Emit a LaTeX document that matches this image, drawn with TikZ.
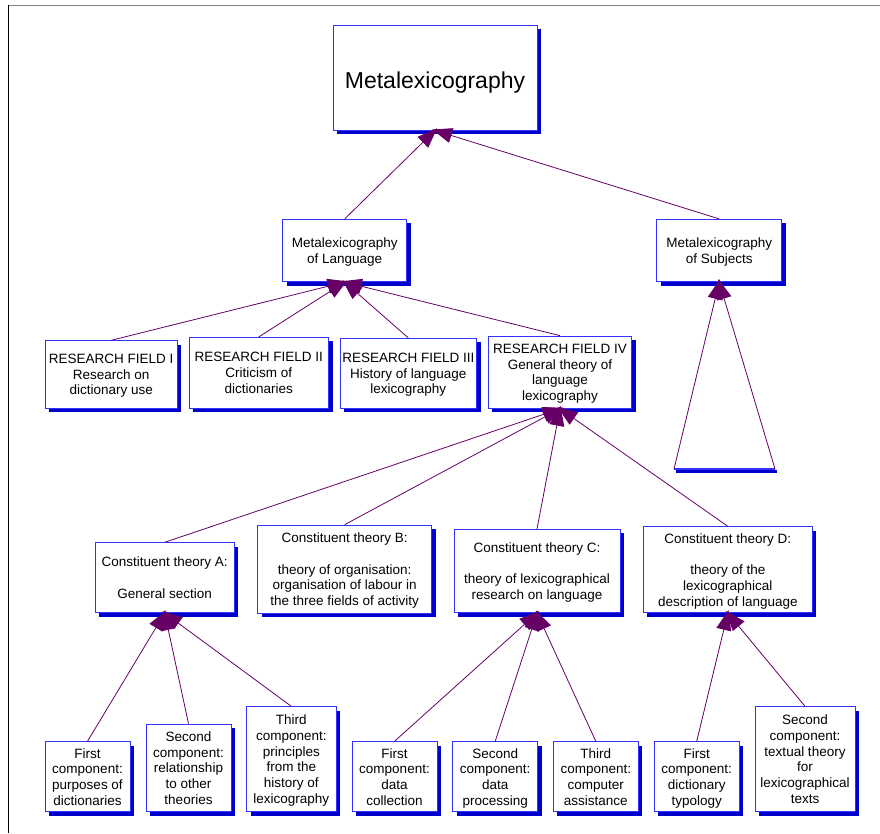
\documentclass[tikz,border=0pt]{standalone}
\usepackage{fontspec}
\setmainfont{Liberation Sans}
\usetikzlibrary{arrows.meta,shadows,calc}
\definecolor{boxline}{RGB}{51,51,255}
\definecolor{shadowblue}{RGB}{0,0,204}
\definecolor{linkpurple}{RGB}{102,0,102}
\definecolor{framegray}{RGB}{128,128,128}
\begin{document}
\begin{tikzpicture}[x=1pt,y=-1pt,
  box/.style={draw=boxline, line width=0.8pt, fill=white, inner sep=0pt, align=center,
    font=\fontsize{13.5}{15.7}\selectfont, text depth=-1.25pt,
    drop shadow={shadow xshift=4pt, shadow yshift=-4pt, fill=shadowblue, opacity=1}},
  bigbox/.style={draw=boxline, line width=0.8pt, fill=white, inner sep=0pt, align=center,
    font=\fontsize{23}{27}\selectfont,
    execute at begin node={\rule{0pt}{26pt}},
    execute at end node={\rule[-4.7pt]{0pt}{0pt}},
    drop shadow={shadow xshift=4pt, shadow yshift=-4pt, fill=shadowblue, opacity=1}},
  link/.style={draw=linkpurple, line width=0.8pt, -{Triangle[length=20pt,width=15pt]}, shorten >=-3pt}]
\useasboundingbox (0,0) rectangle (880,833);
% frame
\draw[framegray, line width=1.5pt] (8,5.5) -- (880,5.5);
\draw[black, line width=1pt] (8,5) -- (8,833);

% nodes
\node[bigbox, minimum width=204pt, minimum height=105pt] (top) at (435,77.5) {Metalexicography};
\node[box, minimum width=124pt, minimum height=62.4pt] (lang) at (344.7,250.5) {Metalexicography\\of Language};
\node[box, minimum width=125pt, minimum height=62.4pt] (subj) at (719.2,250.5) {Metalexicography\\of Subjects};

\node[box, minimum width=132.3pt, minimum height=67.6pt] (rf1) at (111.2,374.5) {RESEARCH FIELD I\\Research on\\dictionary use};
\node[box, minimum width=139.7pt, minimum height=71pt] (rf2) at (258.8,372.8) {RESEARCH FIELD II\\Criticism of\\dictionaries};
\node[box, minimum width=136.7pt, minimum height=70pt] (rf3) at (408.3,373.3) {RESEARCH FIELD III\\History of language\\lexicography};
\node[box, minimum width=143.4pt, minimum height=72.3pt] (rf4) at (560,372.2) {RESEARCH FIELD IV\\General theory of\\language\\lexicography};

\node[box, minimum width=139.3pt, minimum height=70pt] (ctA) at (164.7,577.7) {Constituent theory A:\\[15.7pt]General section};
\node[box, minimum width=174pt, minimum height=88.3pt] (ctB) at (344.7,569.2) {Constituent theory B:\\[15.7pt]theory of organisation:\\organisation of labour in\\the three fields of activity};
\node[box, minimum width=166pt, minimum height=83.4pt] (ctC) at (537,571) {Constituent theory C:\\[15.7pt]theory of lexicographical\\research on language};
\node[box, minimum width=169pt, minimum height=86pt] (ctD) at (727.8,569.7) {Constituent theory D:\\[15.7pt]theory of the\\lexicographical\\description of language};

\node[box, minimum width=85pt, minimum height=70pt] (a1) at (87.5,776.7) {First\\component:\\purposes of\\dictionaries};
\node[box, minimum width=85pt, minimum height=87.7pt] (a2) at (188.5,767.9) {Second\\component:\\relationship\\to other\\theories};
\node[box, minimum width=89.3pt, minimum height=105pt] (a3) at (291.3,759.2) {Third\\component:\\principles\\from the\\history of\\lexicography};

\node[box, minimum width=85pt, minimum height=70pt] (c1) at (394.5,776.7) {First\\component:\\data\\collection};
\node[box, minimum width=85pt, minimum height=70pt] (c2) at (495.2,776.7) {Second\\component:\\data\\processing};
\node[box, minimum width=85pt, minimum height=70pt] (c3) at (595.8,776.7) {Third\\component:\\computer\\assistance};

\node[box, minimum width=85pt, minimum height=70pt] (d1) at (696.7,776.7) {First\\component:\\dictionary\\typology};
\node[box, minimum width=100pt, minimum height=105pt] (d2) at (805,759.2) {Second\\component:\\textual theory\\for\\lexicographical\\texts};

% triangle base
\coordinate (baseL) at (674,469);
\coordinate (baseR) at (775,469);
\draw[shadowblue, line width=3pt] ($(baseL)+(2,2.5)$) -- ($(baseR)+(2,2.5)$);
\draw[boxline, line width=2pt] (baseL) -- (baseR);

% connectors
\draw[link] (lang.north) -- (top.south);
\draw[link] (subj.north) -- (top.south);

\draw[link] (rf1.north) -- (lang.south);
\draw[link] (rf2.north) -- (lang.south);
\draw[link] (rf3.north) -- (lang.south);
\draw[link] (rf4.north) -- (lang.south);

\draw[link] (baseL) -- (subj.south);
\draw[link] (baseR) -- (subj.south);

\draw[link] (ctA.north) -- (rf4.south);
\draw[link] (ctB.north) -- (rf4.south);
\draw[link] (ctC.north) -- (rf4.south);
\draw[link] (ctD.north) -- (rf4.south);

\draw[link] (a1.north) -- (ctA.south);
\draw[link] (a2.north) -- (ctA.south);
\draw[link] (a3.north) -- (ctA.south);

\draw[link] (c1.north) -- (ctC.south);
\draw[link] (c2.north) -- (ctC.south);
\draw[link] (c3.north) -- (ctC.south);

\draw[link] (d1.north) -- (ctD.south);
\draw[link] (d2.north) -- (ctD.south);
\end{tikzpicture}
\end{document}
